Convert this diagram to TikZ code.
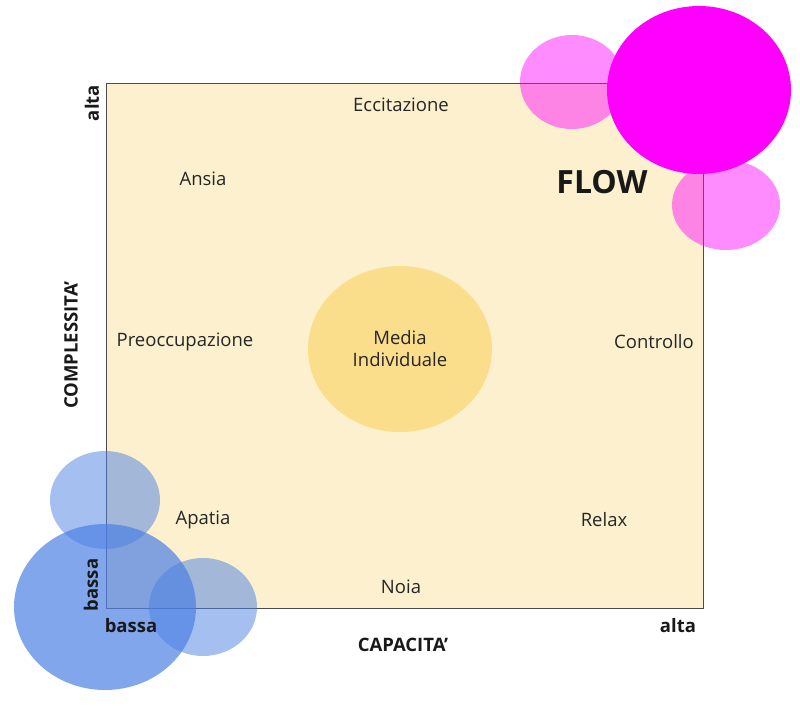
\documentclass[tikz,border=0pt]{standalone}
\usepackage{fontspec}
\setmainfont{Open Sans}
\usetikzlibrary{shapes.geometric}
\definecolor{areafill}{RGB}{253,240,206}
\definecolor{mediafill}{RGB}{251,222,140}
\definecolor{flowpink}{RGB}{255,0,255}
\definecolor{lowblue}{RGB}{75,128,228}

\begin{document}
\begin{tikzpicture}[
            x=1pt, y=-1pt,
            state/.style={font=\fontsize{18.5}{22}\selectfont, text=black!85, align=center},
            axis/.style={font=\fontsize{18.5}{22}\selectfont\bfseries, text=black!90},
            media/.style={ellipse, fill=mediafill, minimum width=184pt, minimum height=166pt, inner sep=0pt},
            pinkball/.style={fill=flowpink, fill opacity=0.45},
            blueball/.style={fill=lowblue, fill opacity=#1},
        ]
            \useasboundingbox (0,0) rectangle (800,706);
            % area of the chart
            \draw[fill=areafill, draw=black!70, line width=0.8pt] (106,83) rectangle (703,608);
            \node[media] (media) at (400,349) {};
            \node[state] at (media) {Media\\Individuale};
            % low corner circles
            \fill[blueball=0.5] (105,500) ellipse (55 and 49);
            \fill[blueball=0.7] (105,607) ellipse (91 and 83);
            \fill[blueball=0.5] (203,607) ellipse (54 and 49);
            % high corner circles
            \fill[pinkball] (572,82) ellipse (52 and 47);
            \fill[pinkball] (726,205) ellipse (54 and 45);
            \fill[flowpink] (699,90) ellipse (92 and 84);
            % states
            \node[state] (eccitazione) at (401,105) {Eccitazione};
            \node[state] (ansia) at (203,179) {Ansia};
            \node[state, font=\fontsize{32}{36}\selectfont\bfseries, text=black!90] (flow) at (602,182) {FLOW};
            \node[state] (preoccupazione) at (185,342) {Preoccupazione};
            \node[state] (controllo) at (654,342) {Controllo};
            \node[state] (apatia) at (203,520) {Apatia};
            \node[state] (relax) at (604,520) {Relax};
            \node[state] (noia) at (401,587) {Noia};
            % axes
            \node[axis, rotate=90] (altay) at (92,103) {alta};
            \node[axis, rotate=90] (complessita) at (71,345) {COMPLESSITA'};
            \node[axis, rotate=90] (bassay) at (91,585) {bassa};
            \node[axis] (bassax) at (131,626) {bassa};
            \node[axis] (capacita) at (403,645) {CAPACITA'};
            \node[axis] (altax) at (678,626) {alta};
        \end{tikzpicture}
\end{document}
